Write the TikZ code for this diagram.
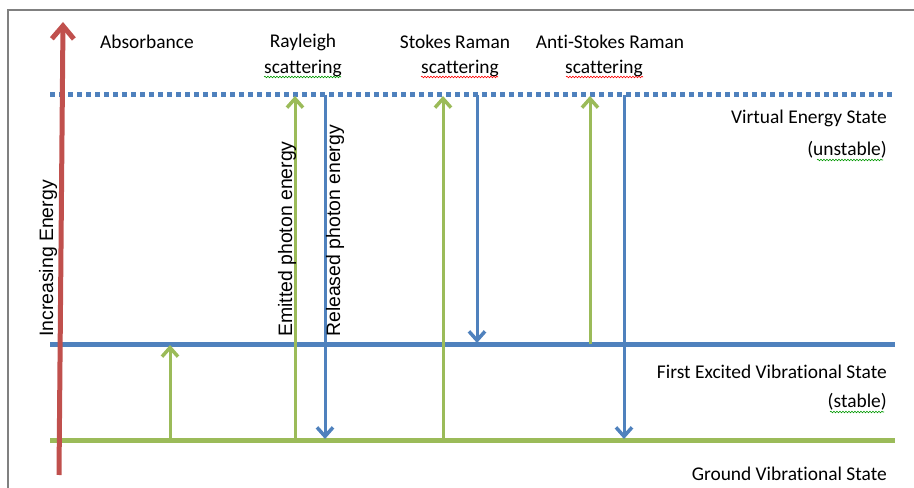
\documentclass[tikz,border=0pt]{standalone}
\usepackage{fontspec}
\setmainfont{Carlito}[Ligatures=NoCommon]
\newfontfamily\arialfont{Liberation Sans}
\usetikzlibrary{arrows.meta,decorations.pathmorphing}
\definecolor{cred}{HTML}{C0504D}
\definecolor{cblue}{HTML}{4F81BD}
\definecolor{cgreen}{HTML}{9BBB59}
\definecolor{cframe}{HTML}{808080}
\tikzset{
  level/.style={line width=5bp},
  uparr/.style={cgreen,line width=3bp,-{Straight Barb[length=9bp,width=16bp,line width=3.5bp]}},
  downarr/.style={cblue,line width=3bp,-{Straight Barb[length=9bp,width=16bp,line width=3.5bp]}},
  lbl/.style={font=\fontsize{19.5}{22}\selectfont,inner sep=0pt},
  rlbl/.style={font=\arialfont\fontsize{19.5}{22}\selectfont,inner sep=0pt,rotate=90,anchor=west},
  squig/.style={line width=0.6bp,decorate,decoration={snake,amplitude=0.8bp,segment length=3bp}}
}
\begin{document}
\begin{tikzpicture}[x=1bp,y=-1bp]
\useasboundingbox (0,0) rectangle (914,488);
\draw[cframe,line width=2bp] (8,488) -- (8,10) -- (914,10);
% level endpoints
\coordinate (vL) at (50,95);  \coordinate (vR) at (895,95);
\coordinate (eL) at (50,344); \coordinate (eR) at (895,344);
\coordinate (gL) at (50,440); \coordinate (gR) at (895,440);
\draw[cblue,level,dash pattern=on 5bp off 4bp] (vL) -- (vR);
\draw[cblue,level] (eL) -- (eR);
\draw[cgreen,level] (gL) -- (gR);
% energy axis
\coordinate (axB) at (59,475);
\coordinate (axT) at (63,22);
\draw[cred,line width=5bp,-{Straight Barb[length=13bp,width=22bp,line width=5bp]}] (axB) -- (axT);
% arrows
\coordinate (a1) at (170,440); \coordinate (a2) at (170,345);
\draw[uparr] (a1) -- (a2);
\coordinate (r1) at (295,440); \coordinate (r2) at (295,96);
\draw[uparr] (r1) -- (r2);
\coordinate (r3) at (325,95); \coordinate (r4) at (325,439);
\draw[downarr] (r3) -- (r4);
\coordinate (s1) at (443,440); \coordinate (s2) at (443,96);
\draw[uparr] (s1) -- (s2);
\coordinate (s3) at (477,95); \coordinate (s4) at (477,343);
\draw[downarr] (s3) -- (s4);
\coordinate (t1) at (590,344); \coordinate (t2) at (590,96);
\draw[uparr] (t1) -- (t2);
\coordinate (t3) at (624,95); \coordinate (t4) at (624,439);
\draw[downarr] (t3) -- (t4);
% top labels
\node[lbl] (abs) at (147,42) {Absorbance};
\node[lbl] (ray) at (303,42) {Rayleigh};
\node[lbl] (rays) at (303,68) {scattering};
\node[lbl] (sto) at (455,42) {Stokes Raman};
\node[lbl] (stos) at (460,68) {scattering};
\node[lbl] (ant) at (610,42) {Anti-Stokes Raman};
\node[lbl] (ants) at (604,68) {scattering};
% right labels
\node[lbl,anchor=east] (virt) at (887,118) {Virtual Energy State};
\node[lbl,anchor=east] (virtu) at (887,150) {(unstable)};
\node[lbl,anchor=east] (exc) at (887,372) {First Excited Vibrational State};
\node[lbl,anchor=east] (excs) at (887,402) {(stable)};
\node[lbl,anchor=east] (gnd) at (887,474) {Ground Vibrational State};
% rotated labels
\node[rlbl] (inc) at (48,337) {Increasing Energy};
\node[rlbl] (emi) at (287,337) {Emitted photon energy};
\node[rlbl] (rel) at (335,337) {Released photon energy};
% spell-check squiggles
\draw[squig,green!60!black] (264,77) -- (341,77);
\draw[squig,red] (421,77) -- (498,77);
\draw[squig,red] (566,77) -- (643,77);
\draw[squig,green!60!black] (817,160) -- (883,160);
\draw[squig,green!60!black] (830,412) -- (884,412);
\end{tikzpicture}
\end{document}
